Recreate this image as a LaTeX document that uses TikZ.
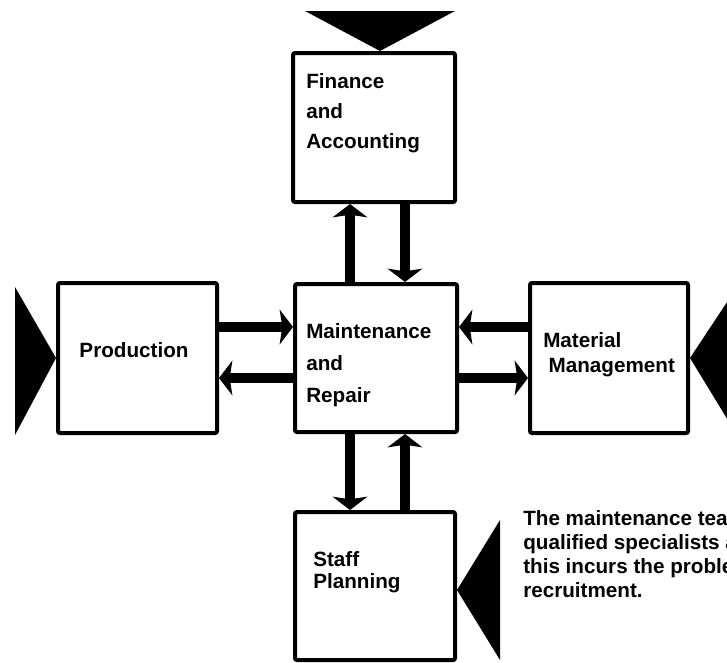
\documentclass[tikz,border=0pt]{standalone}
\usepackage{fontspec}
\setmainfont{Liberation Sans}
\usetikzlibrary{arrows.meta}
\tikzset{
  box/.style={draw=black, line width=3pt, rounded corners=1.5pt, fill=white, inner sep=0pt},
  lbl/.style={font=\bfseries\fontsize{15.5}{19}\selectfont, align=left, inner sep=0pt, anchor=west},
  arr/.style={line width=7.5pt, -{Stealth[width=26pt,length=10pt,inset=2pt]}},
  tri/.style={fill=black, draw=none}
}
\begin{document}
\begin{tikzpicture}[x=0.75pt, y=-0.75pt]
\useasboundingbox (0,0) rectangle (727,662);
\clip (0,0) rectangle (727,662);
% boxes
\node[box, minimum width={162*0.75pt}, minimum height={149*0.75pt}] (fin) at (374,127.5) {};
\node[box, minimum width={162*0.75pt}, minimum height={148*0.75pt}] (maint) at (376,358) {};
\node[box, minimum width={159*0.75pt}, minimum height={150*0.75pt}] (prod) at (137.5,358) {};
\node[box, minimum width={158*0.75pt}, minimum height={150*0.75pt}] (mat) at (609,358) {};
\node[box, minimum width={160*0.75pt}, minimum height={148*0.75pt}] (staff) at (375,586) {};
% labels
\node[lbl, font=\bfseries\fontsize{15.5}{22.5}\selectfont] (tfin) at (306,113) {Finance\\and\\Accounting};
\node[lbl, font=\bfseries\fontsize{15.5}{24}\selectfont] (tmaint) at (306,365) {Maintenance\\and\\Repair};
\node[lbl, anchor=center] (tprod) at (134,350) {Production};
\node[lbl, font=\bfseries\fontsize{15.5}{19}\selectfont] (tmat) at (543,355) {Material\\\hspace*{4pt}Management};
\node[lbl, font=\bfseries\fontsize{15.5}{16.5}\selectfont] (tstaff) at (313,572) {Staff\\Planning};
\node[lbl, font=\bfseries\fontsize{15.5}{18}\selectfont] (note) at (523,554) {The maintenance team consists of\\qualified specialists and\\this incurs the problem of\\recruitment.};
% triangles
\fill[tri] (305,11) -- (455,11) -- (fin.north -| 380,0) -- cycle;
\fill[tri] (15,287) -- (prod.west) -- (15,435) -- cycle;
\fill[tri] (mat.east) -- (737,287) -- (737,435) -- cycle;
\fill[tri] (500,520) -- (457,590) -- (500,660) -- cycle;
% connector x/y references
\coordinate (cx1) at (350,0);
\coordinate (cx2) at (405,0);
\coordinate (cy1) at (0,327);
\coordinate (cy2) at (0,378);
% arrows
\draw[arr] (maint.north -| cx1) -- (fin.south -| cx1);
\draw[arr] (fin.south -| cx2) -- (maint.north -| cx2);
\draw[arr] (prod.east |- cy1) -- (maint.west |- cy1);
\draw[arr] (maint.west |- cy2) -- (prod.east |- cy2);
\draw[arr] (mat.west |- cy1) -- (maint.east |- cy1);
\draw[arr] (maint.east |- cy2) -- (mat.west |- cy2);
\draw[arr] (maint.south -| cx1) -- (staff.north -| cx1);
\draw[arr] (staff.north -| cx2) -- (maint.south -| cx2);
\end{tikzpicture}
\end{document}
